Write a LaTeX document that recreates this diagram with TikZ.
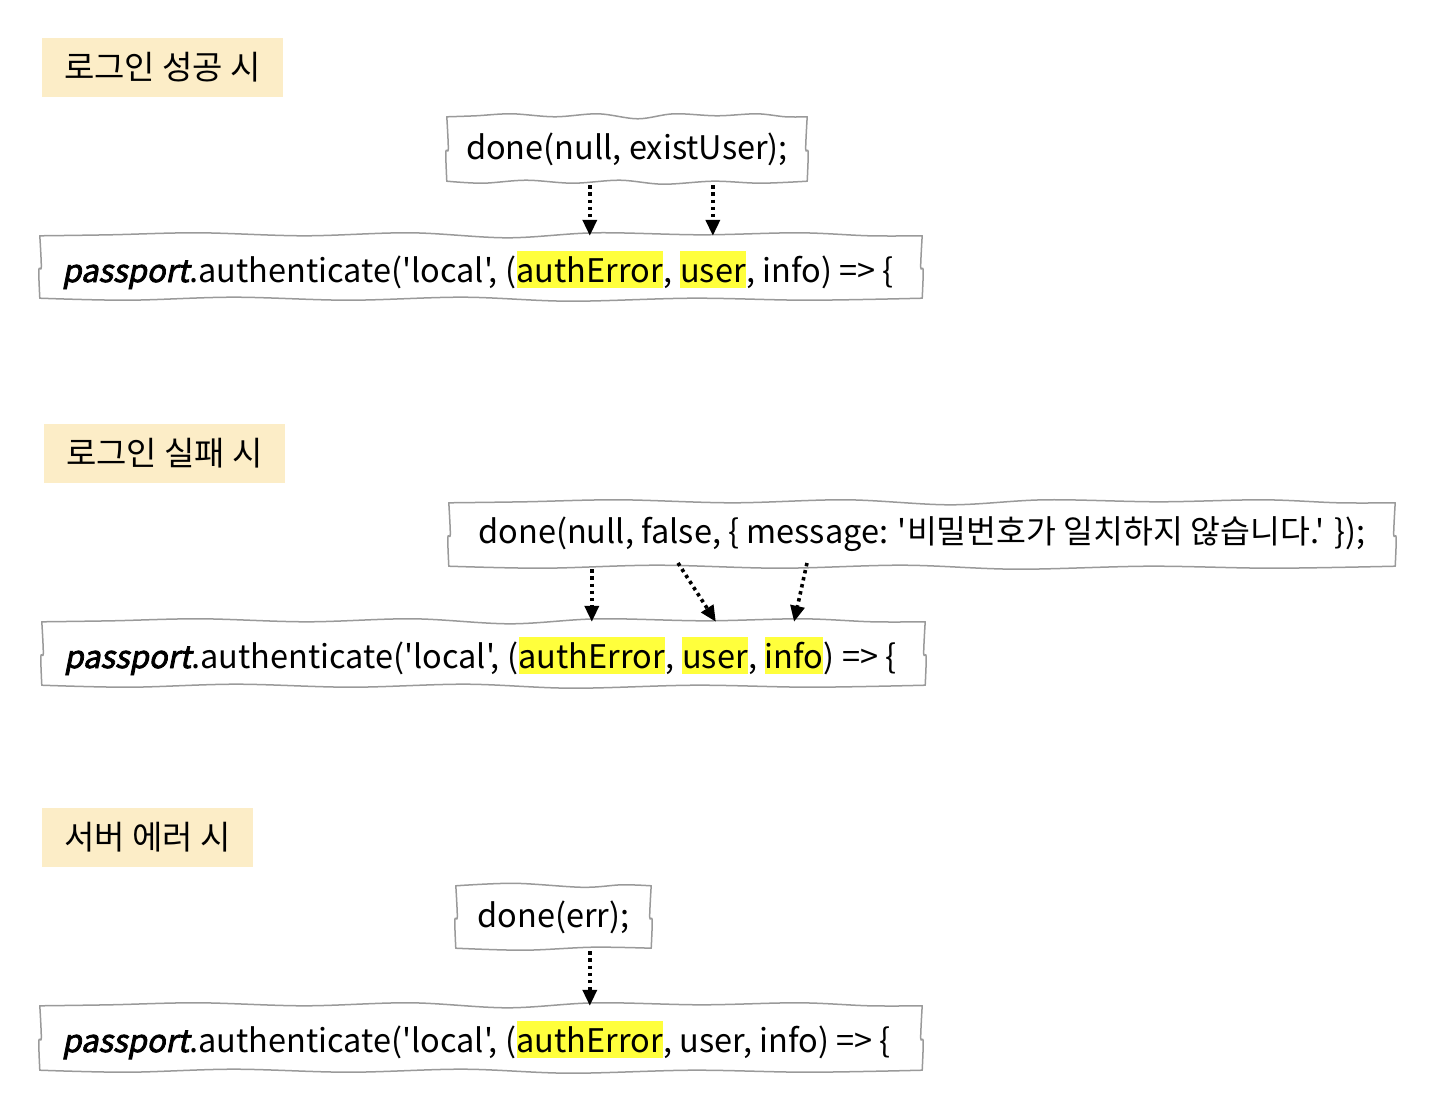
\documentclass[tikz,border=0pt]{standalone}
\usepackage{fontspec}
\setmainfont{Noto Sans CJK KR}
\newfontfamily\kr{Noto Sans CJK KR}
\newfontfamily\ppfont[FakeSlant=0.2,FakeBold=2.5]{Noto Sans CJK KR}
\usetikzlibrary{calc,arrows.meta}
\definecolor{labelbg}{HTML}{FCEDC7}
\definecolor{hlc}{HTML}{FFFF3C}
\definecolor{edgec}{HTML}{9A9A9A}
\tikzset{
 boxline/.style={draw=edgec, line width=1.5pt, line join=round, line cap=round},
 plainbox/.style={inner sep=0pt, font=\kr\fontsize{32.5}{32.5}\selectfont},
 caption/.style={fill=labelbg, inner sep=0pt, font=\kr\fontsize{33}{33}\selectfont},
 code/.style={inner sep=0pt, font=\kr\fontsize{32.5}{32.5}\selectfont, anchor=base west},
 hlw/.style={code, fill=hlc, text height=31pt, text depth=6pt},
 flow/.style={line width=3.6pt, dash pattern=on 3.4pt off 3.8pt, -{Triangle[length=16pt,width=14pt]}},
}
\newcommand\pp{{\ppfont\fontsize{31}{31}\selectfont passport}}
% long wavy outline round node #1
\newcommand\wboxlong[1]{%
 \draw[boxline] plot[smooth,tension=0.55] coordinates {(#1.north west)
  ($(#1.north west)!.08!(#1.north east)+(0,-1)$) ($(#1.north west)!.18!(#1.north east)+(0,-3)$)
  ($(#1.north west)!.3!(#1.north east)+(0,0)$) ($(#1.north west)!.42!(#1.north east)+(0,-3)$)
  ($(#1.north west)!.53!(#1.north east)+(0,2)$) ($(#1.north west)!.63!(#1.north east)+(0,-3)$)
  ($(#1.north west)!.75!(#1.north east)+(0,-1)$) ($(#1.north west)!.86!(#1.north east)+(0,-3)$)
  ($(#1.north west)!.94!(#1.north east)+(0,0)$) (#1.north east)};
 \draw[boxline] plot[smooth,tension=0.55] coordinates {(#1.south west)
  ($(#1.south west)!.1!(#1.south east)+(0,2)$) ($(#1.south west)!.22!(#1.south east)+(0,-1)$)
  ($(#1.south west)!.35!(#1.south east)+(0,2)$) ($(#1.south west)!.48!(#1.south east)+(0,-1)$)
  ($(#1.south west)!.6!(#1.south east)+(0,3)$) ($(#1.south west)!.74!(#1.south east)+(0,0)$)
  ($(#1.south west)!.87!(#1.south east)+(0,2)$) (#1.south east)};
 \draw[boxline] plot[smooth,tension=0.55] coordinates {(#1.north west) ($(#1.west)+(1.5,0)$) ($(#1.west)+(-1,3)$) (#1.south west)};
 \draw[boxline] plot[smooth,tension=0.55] coordinates {(#1.north east) ($(#1.east)+(-1.5,0)$) ($(#1.east)+(1,3)$) (#1.south east)};
}
% short wavy outline round node #1
\newcommand\wboxshort[1]{%
 \draw[boxline] plot[smooth,tension=0.55] coordinates {(#1.north west)
  ($(#1.north west)!.3!(#1.north east)+(0,-2.5)$) ($(#1.north west)!.65!(#1.north east)+(0,1.5)$)
  ($(#1.north west)!.85!(#1.north east)+(0,-1)$) (#1.north east)};
 \draw[boxline] plot[smooth,tension=0.55] coordinates {(#1.south west)
  ($(#1.south west)!.35!(#1.south east)+(0,2)$) ($(#1.south west)!.7!(#1.south east)+(0,-1)$) (#1.south east)};
 \draw[boxline] plot[smooth,tension=0.55] coordinates {(#1.north west) ($(#1.west)+(1.5,0)$) ($(#1.west)+(-1,3)$) (#1.south west)};
 \draw[boxline] plot[smooth,tension=0.55] coordinates {(#1.north east) ($(#1.east)+(-1.5,0)$) ($(#1.east)+(1,3)$) (#1.south east)};
}
\begin{document}
\begin{tikzpicture}[x=1pt,y=-1pt]
\path[use as bounding box, fill=white] (0,0) rectangle (1430,1100);

% ---------- section 1
\node[caption, minimum width=241pt, minimum height=59pt] (c1) at (162.5,67.5) {로그인 성공 시};
\node[plainbox, minimum width=360pt, minimum height=64pt] (d1) at (627,149) {done(null, existUser);};
\wboxlong{d1}
\node[plainbox, minimum width=882pt, minimum height=62pt] (b1) at (481,267) {};
\wboxlong{b1}
\node[code] (p11) at (62,282) {\pp};
\node[code] (p12) at (p11.base east) {.authenticate('local',\ (};
\node[hlw] (a1) at (p12.base east) {authError};
\node[code] (p13) at (a1.base east) {,\ \mbox{}};
\node[hlw] (u1) at (p13.base east) {user};
\node[code] (p14) at (u1.base east) {,\ info) => \{};
\draw[flow] ([yshift=-4pt]a1.north |- d1.south) -- (a1.north |- b1.north);
\draw[flow] ([yshift=-4pt]u1.north |- d1.south) -- (u1.north |- b1.north);

% ---------- section 2
\node[caption, minimum width=241pt, minimum height=59pt] (c2) at (164.5,453.5) {로그인 실패 시};
\node[plainbox, minimum width=946pt, minimum height=63pt] (d2) at (922,534.5) {done(null, false, \{ message: '비밀번호가 일치하지 않습니다.' \});};
\wboxlong{d2}
\node[plainbox, minimum width=883pt, minimum height=63pt] (b2) at (483.5,653.5) {};
\wboxlong{b2}
\node[code] (p21) at (64,668) {\pp};
\node[code] (p22) at (p21.base east) {.authenticate('local',\ (};
\node[hlw] (a2) at (p22.base east) {authError};
\node[code] (p23) at (a2.base east) {,\ \mbox{}};
\node[hlw] (u2) at (p23.base east) {user};
\node[code] (p24) at (u2.base east) {,\ \mbox{}};
\node[hlw] (i2) at (p24.base east) {info};
\node[code] (p25) at (i2.base east) {) => \{};
\coordinate (s2b) at (678,563);
\coordinate (s2c) at (807,563);
\draw[flow] ([yshift=-3pt]a2.north |- d2.south) -- (a2.north |- b2.north);
\draw[flow] (s2b) -- ([xshift=1pt]u2.north |- b2.north);
\draw[flow] (s2c) -- (i2.north |- b2.north);

% ---------- section 3
\node[caption, minimum width=211pt, minimum height=59pt] (c3) at (147.5,837.5) {서버 에러 시};
\node[plainbox, minimum width=195pt, minimum height=62pt] (d3) at (553.5,917) {done(err);};
\wboxshort{d3}
\node[plainbox, minimum width=882pt, minimum height=64pt] (b3) at (481,1038) {};
\wboxlong{b3}
\node[code] (p31) at (62,1052) {\pp};
\node[code] (p32) at (p31.base east) {.authenticate('local',\ (};
\node[hlw] (a3) at (p32.base east) {authError};
\node[code] (p33) at (a3.base east) {, user, info) => \{};
\draw[flow] ([yshift=-3pt]a3.north |- d3.south) -- (a3.north |- b3.north);
\end{tikzpicture}
\end{document}
